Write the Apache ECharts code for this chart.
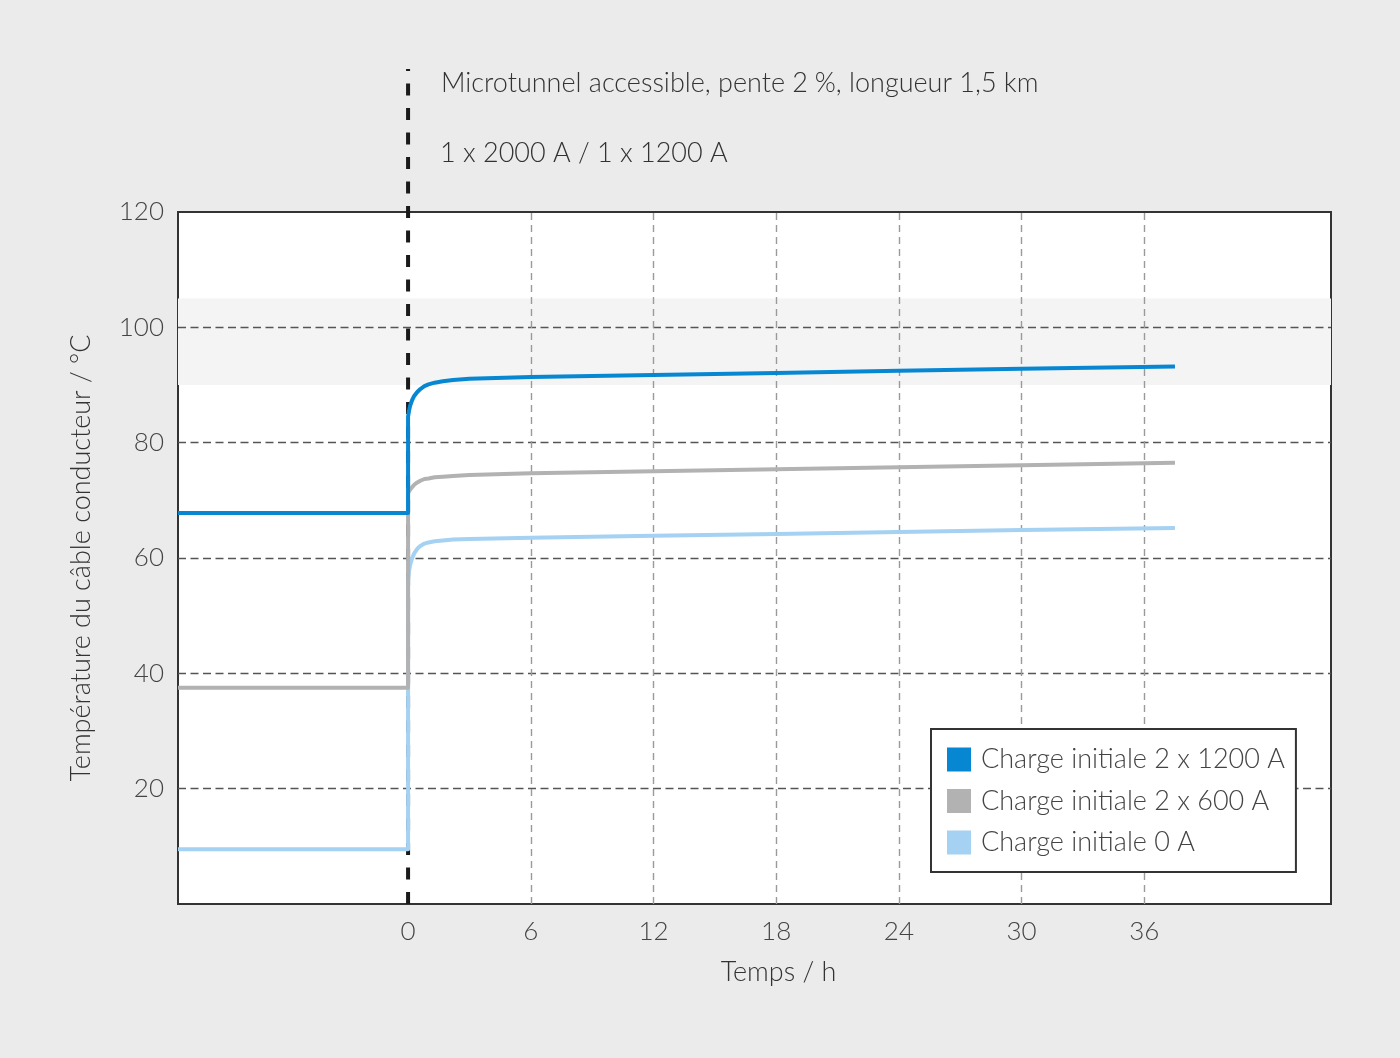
<!DOCTYPE html>
<html><head><meta charset="utf-8">
<script src="https://cdn.jsdelivr.net/npm/echarts@6/dist/echarts.min.js"></script>
<style>html,body{margin:0;padding:0;background:#ebebeb}#c{width:1400px;height:1058px}</style>
</head><body><div id="c"></div>
<script>
const seriesNames = ['Charge initiale 2 x 1200 A', 'Charge initiale 2 x 600 A', 'Charge initiale 0 A'];
const tHours = [-11.25, 0, 0, 0.05, 0.1, 0.2, 0.3, 0.45, 0.6, 0.8, 1.0, 1.3, 1.7, 2.2, 3, 6, 12, 18, 24, 30, 37.5];
const temp1200 = [67.8, 67.8, 84.5, 85.6, 86.4, 87.4, 88.1, 88.8, 89.3, 89.8, 90.1, 90.4, 90.65, 90.85, 91.1, 91.4, 91.75, 92.1, 92.45, 92.8, 93.2];
const temp600 = [37.5, 37.5, 71.2, 71.6, 71.9, 72.3, 72.7, 73.1, 73.4, 73.7, 73.8, 74.0, 74.1, 74.2, 74.4, 74.7, 75.05, 75.4, 75.75, 76.1, 76.5];
const temp0 = [9.5, 9.5, 56.2, 57.8, 58.8, 60.0, 60.8, 61.6, 62.1, 62.5, 62.7, 62.9, 63.05, 63.2, 63.3, 63.5, 63.85, 64.15, 64.5, 64.85, 65.2];
const xTicks = [0, 6, 12, 18, 24, 30, 36];
const xGridLines = [6, 12, 18, 24, 30, 36];
const band = [90, 105];
const xRange = [-11.25, 45.13];
const yRange = [0, 120];
const titleLines = ['Microtunnel accessible, pente 2\u202F%, longueur 1,5 km', '1 x 2000 A / 1 x 1200 A'];
const xName = 'Temps / h';
const yName = 'Température du câble conducteur / °C';

const colors = ['#0787d2', '#b2b2b2', '#a5d1f2'];
const FONT = 'Lato';
const pair = (ys) => tHours.map((t, i) => [t, ys[i]]);

const chart = echarts.init(document.getElementById('c'), null, {renderer: 'canvas'});
chart.setOption({
  backgroundColor: '#ebebeb',
  animation: false,
  textStyle: {fontFamily: FONT, fontWeight: 300},
  title: [
    {text: titleLines[0], left: 441, top: 70, padding: 0,
     textStyle: {fontFamily: FONT, fontWeight: 300, fontSize: 27, color: '#333'}},
    {text: titleLines[1], left: 440, top: 140, padding: 0,
     textStyle: {fontFamily: FONT, fontWeight: 300, fontSize: 27, color: '#333'}}
  ],
  legend: {
    orient: 'vertical', left: 931, top: 729,
    padding: [17, 11, 16, 16],
    backgroundColor: '#fff', borderColor: '#333', borderWidth: 2, borderRadius: 0,
    itemWidth: 24, itemHeight: 24, itemGap: 14.5,
    data: seriesNames.map((n) => ({name: n, icon: 'rect'})),
    textStyle: {fontFamily: FONT, fontWeight: 300, fontSize: 27, color: '#444', lineHeight: 24, padding: [0, 0, 0, 5]}
  },
  grid: [
    {left: 178, right: 69, top: 212, bottom: 154, show: true, backgroundColor: '#fff', borderColor: '#333', borderWidth: 2},
    {left: 178, right: 69, top: 69, bottom: 154, show: false}
  ],
  xAxis: [
    {type: 'value', gridIndex: 0, min: xRange[0], max: xRange[1], z: 2,
     name: xName, nameLocation: 'middle', nameGap: 55,
     nameTextStyle: {fontFamily: FONT, fontWeight: 300, fontSize: 27, color: '#333', padding: [0, 0, 0, 48]},
     axisLine: {show: false}, axisTick: {show: false}, splitLine: {show: false},
     axisLabel: {customValues: xTicks, fontFamily: FONT, fontWeight: 300, fontSize: 26, color: '#444', margin: 15}},
    {type: 'value', gridIndex: 1, min: xRange[0], max: xRange[1], show: false}
  ],
  yAxis: [
    {type: 'value', gridIndex: 0, min: yRange[0], max: yRange[1], interval: 20, z: 2,
     name: yName, nameLocation: 'middle', nameGap: 83,
     nameTextStyle: {fontFamily: FONT, fontWeight: 300, fontSize: 27, color: '#333'},
     axisLine: {show: false}, axisTick: {show: false},
     axisLabel: {showMinLabel: false, fontFamily: FONT, fontWeight: 300, fontSize: 26, color: '#444', margin: 14},
     splitLine: {show: true, showMinLine: false, showMaxLine: false,
       lineStyle: {color: '#555', width: 1.4, type: [8, 4.5]}}},
    {type: 'value', gridIndex: 1, min: 0, max: 1, show: false}
  ],
  series: [
    {type: 'line', name: '_bg', xAxisIndex: 0, yAxisIndex: 0, data: [], z: 1, silent: true,
     markArea: {silent: true, z: 1, itemStyle: {color: '#f4f4f4'},
       data: [[{yAxis: band[0]}, {yAxis: band[1]}]]},
     markLine: {silent: true, z: 2, symbol: ['none', 'none'], label: {show: false},
       lineStyle: {color: '#9a9a9a', width: 1.4, type: [7, 5]},
       emphasis: {disabled: true},
       data: xGridLines.map((v) => ({xAxis: v}))}},
    {type: 'line', name: '_zero', xAxisIndex: 1, yAxisIndex: 1, z: 2, silent: true,
     data: [[0, 0], [0, 1]], symbol: 'none',
     lineStyle: {color: '#1a1a1a', width: 4, type: [12, 12.5]}},
    {type: 'line', name: seriesNames[2], data: pair(temp0), symbol: 'none', z: 3,
     color: colors[2], itemStyle: {color: colors[2]},
     lineStyle: {color: colors[2], width: 4, join: 'round'}},
    {type: 'line', name: seriesNames[1], data: pair(temp600), symbol: 'none', z: 3,
     color: colors[1], itemStyle: {color: colors[1]},
     lineStyle: {color: colors[1], width: 4, join: 'round'}},
    {type: 'line', name: seriesNames[0], data: pair(temp1200), symbol: 'none', z: 3,
     color: colors[0], itemStyle: {color: colors[0]},
     lineStyle: {color: colors[0], width: 4, join: 'round'}}
  ]
});
</script>
</body></html>
